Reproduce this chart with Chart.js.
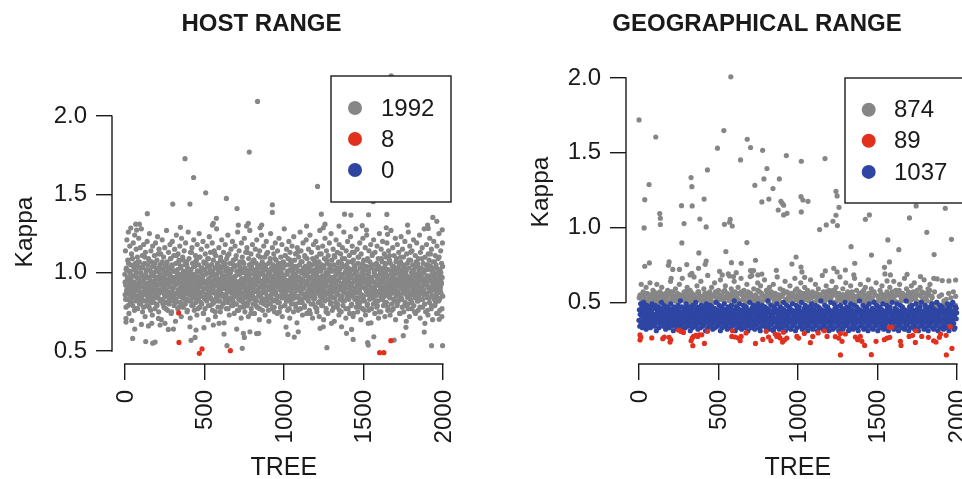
<!DOCTYPE html>
<html>
<head>
<meta charset="utf-8">
<title>Kappa by tree</title>
<script src="https://cdn.jsdelivr.net/npm/chart.js@4/dist/chart.umd.min.js"></script>
<style>
html, body { margin: 0; padding: 0; background: #fff; overflow: hidden; width: 962px; height: 479px; }
canvas { position: absolute; top: 0; }
#hostChart { left: 0; }
#geoChart { left: 481px; }
</style>
</head>
<body>
<canvas id="hostChart" width="486" height="479"></canvas>
<canvas id="geoChart" width="519" height="479"></canvas>
<script>
"use strict";

const xTicks = [0, 500, 1000, 1500, 2000];
const yTicks = [0.5, 1.0, 1.5, 2.0];

const hostLabels = ["1992", "8", "0"];
const geoLabels = ["874", "89", "1037"];

// HOST RANGE, points that can be read one by one
const hostGrayTrees = [1675,835,783,379,433,509,639,1212,302,410,928,706,928,142,1236,1382,1422,1533,1648,1562,1937,1962,576,551,557,1996,1778,1904,1908,1644,1652,38,69,92,75,350,1493,1520,1347,1143,1259,1248,777,766,714,861,851,8,8,44,63,50,132,176,191,105,149,170,212,222,253,274,306,417,442,448,410,498,557,593,624,643,739,704,746,752,787,829,842,1014,1026,1066,1091,1271,1228,1248,1300,1363,1394,1436,1426,1531,1566,1527,1531,1694,1751,1768,1883,1929,1998,1887,1977];
const hostGrayKappa = [2.257,2.094,1.77,1.728,1.608,1.51,1.474,1.551,1.438,1.438,1.434,1.41,1.385,1.377,1.374,1.374,1.368,1.37,1.372,1.453,1.353,1.328,1.347,1.304,1.315,1.274,1.304,1.304,1.283,1.287,1.245,1.285,1.31,1.31,1.272,1.29,1.3,1.272,1.298,1.298,1.31,1.287,1.315,1.298,1.304,1.304,1.287,.685,.708,.694,.64,.58,.56,.55,.557,.67,.66,.677,.708,.666,.677,.638,.64,.568,.587,.634,.655,.649,.666,.677,.608,.534,.517,.64,.613,.587,.623,.611,.613,.653,.606,.589,.623,.521,.645,.655,.677,.655,.613,.574,.638,.677,.591,.553,.538,.57,.598,.651,.621,.534,.534,.677,.702];
const hostRedTrees = [339,341,486,469,664,1602,1629,1673];
const hostRedKappa = [.743,.555,.513,.485,.502,.489,.489,.566];

// HOST RANGE, the dense band in tree order (estimated)
const hostBandKappa = [
.99,.86,1.14,.92,.78,1.03,.88,1.21,.95,.83,1.08,.9,1.26,.97,.74,1.01,.87,1.17,.93,.81,1.05,.96,.89,1.12,.84,
.91,1.09,.79,.98,1.19,.86,1.02,.94,.76,1.24,.88,1.06,.92,.82,1.15,1,.85,.97,1.1,.77,.93,1.04,.89,1.22,.83,
1.07,.95,.87,1.16,.8,1,.91,1.28,.85,.98,1.11,.75,.94,1.03,.88,1.18,.82,.96,1.06,.9,.72,1.13,.99,.86,1.01,
.93,.79,1.2,.89,1.05,.84,.97,1.09,.92,.78,1.25,.87,1.02,.95,.81,1.14,.9,.98,1.07,.83,.73,1.17,.94,.88,1.04,
1,.85,1.11,.91,.77,.96,1.19,.86,1.03,.93,.8,1.08,.89,1.23,.97,.84,1.01,.75,1.15,.92,.87,1.05,.99,.82,1.12,
.95,.7,1.06,.88,1.21,.94,.83,1.02,.9,1.1,.78,.97,.86,1.16,.92,1.04,.81,.99,.89,1.27,.85,1.07,.93,.76,1,
.87,1.13,.96,.8,1.03,.91,1.18,.84,.98,1.09,.74,.94,1.05,.88,1.2,.82,1.01,.9,.95,1.11,.79,.86,1.15,.97,.92,
.69,1.06,.83,1.24,.93,1,.87,1.02,.77,1.12,.96,.89,1.08,.85,.94,1.17,.81,.99,.91,1.04,.72,1.22,.88,.97,.84,
1.1,.93,.78,1.01,.9,1.14,.86,.95,1.05,.8,1.19,.92,.98,.83,1.07,.75,.89,1.03,.96,1.26,.87,.94,1.09,.82,1,
.91,.71,1.13,.85,1.02,.97,.79,1.16,.88,1.06,.93,.84,.99,1.21,.9,.76,1.04,.95,.86,1.11,.81,.98,1.08,.92,.73,
1.18,.89,1.01,.94,.83,1.05,.87,1.25,.96,.78,1.1,.91,1,.85,1.15,.93,.8,1.03,.97,.88,1.2,.74,.95,1.07,.84,
.9,1.02,.77,1.12,.99,.86,1.06,.92,.82,1.17,.94,1.04,.89,.7,1.09,.96,.85,1.23,.91,1,.79,1.13,.87,.98,1.05,
.83,.93,1.19,.76,1.01,.9,1.08,.95,.81,1.14,.88,.97,1.03,.72,1.11,.92,.84,1.28,.99,.86,1.06,.94,.78,1.02,.89,
1.16,.96,.82,1.04,.91,.75,1.1,.87,1,.93,1.21,.85,.98,1.07,.8,.95,1.13,.9,.68,1.05,.97,.83,1.18,.92,1.01,
.86,.77,1.09,.94,1.03,.88,1.24,.81,.99,.91,1.12,.73,.96,1.06,.84,1,.89,1.15,.93,.79,1.02,.87,1.2,.95,.82,
1.08,.9,.97,.74,1.04,.85,1.17,.92,.98,.8,1.11,.88,1.01,.94,.76,1.26,.86,1.05,.91,.83,1.14,.99,.89,1.07,.78,
.95,1.02,.71,1.19,.87,.93,1.1,.84,1,.96,.81,1.06,.9,1.22,.92,.75,1.03,.88,1.13,.97,.85,.98,1.16,.79,.94,
1.01,.89,.72,1.09,.91,1.05,.86,1.27,.83,.99,.95,1.12,.77,1.04,.9,.93,1.18,.87,.8,1.02,.96,1.08,.84,.74,1,
.92,1.15,.88,.97,1.06,.82,1.21,.94,.78,1.03,.89,1.11,.85,.98,.91,.7,1.14,.95,.86,1.05,1,.81,1.24,.93,.87,
1.07,.76,.99,1.01,.9,1.17,.83,.96,1.1,.92,.73,1.04,.88,.94,1.2,.79,1.02,.85,.97,1.13,.91,.84,1.06,.69,.95,
1,.89,1.09,.8,1.25,.93,.86,1.03,.98,.77,1.16,.9,1.05,.82,.96,1.12,.87,.75,1.01,.94,1.19,.88,.99,1.08,.83,
.92,1.02,.74,1.14,.95,.85,1.06,.91,1.22,.81,.97,1.04,.89,.78,1.1,.93,1,.86,1.18,.72,.96,1.03,.84,1.07,.9,
.98,1.28,.87,.79,1.11,.94,1.05,.88,.82,1.15,.92,.99,1.01,.76,1.09,.85,.95,1.2,.89,.91,.71,1.13,1.02,.83,.97,
1.06,.8,.93,1.17,.86,1,.9,1.04,.75,1.23,.96,.87,1.08,.84,.94,1.12,.78,.98,.92,1.03,.68,1.16,.89,1.01,.85,
.95,1.1,.81,.97,1.05,.91,1.26,.77,.88,1.14,.93,1,.83,1.07,.73,.96,1.19,.9,1.02,.86,.99,.79,1.11,.94,1.04,
.84,.92,1.21,.87,.74,1.09,.98,.95,1.03,.82,1.15,.89,1.06,.76,.91,1.24,.85,1.01,.97,.8,1.13,.93,.88,1.05,.71,
1,.9,1.18,.83,.96,1.08,.86,.94,1.02,.78,1.2,.92,.99,1.1,.75,.87,1.04,.95,1.16,.81,.89,1.07,.72,.97,1.27,
.91,.85,1.01,.93,1.12,.79,1.05,.88,.98,1.17,.84,.96,.7,1.03,.9,1.09,.82,1.22,.94,.86,1,.77,1.14,.92,1.06,
.87,.99,.74,1.11,.95,1.02,.83,1.19,.89,.97,1.04,.8,.91,1.25,.85,1.08,.93,.76,1.01,.88,1.15,.96,.84,1.05,.69,
.94,1.1,.9,.98,.81,1.21,.87,1.03,.92,.78,1.13,1,.86,.95,1.07,.73,1.18,.89,1.02,.83,.97,1.12,.91,.75,1.06,
.93,.85,1.16,.99,.79,1.04,.88,1.26,.94,.82,1.09,.96,.9,1.01,.71,1.14,.87,1.05,.92,.84,1.2,.98,.77,1.03,.95,
.86,1.11,.74,1,.89,1.23,.91,.97,1.07,.8,.93,1.17,.85,1.02,.72,1.08,.94,.88,1.13,.99,.83,1.04,.9,.96,1.28,
.78,1.01,.87,1.15,.92,.75,1.06,.95,.84,1.1,.98,.89,1.19,.81,1.03,.93,.7,1.12,.86,1,.91,1.05,.77,1.22,.97,
.85,1.08,.94,.82,1.02,.9,1.16,.73,.96,1.04,.88,1.24,.92,.79,1.09,.99,.86,1.01,.76,1.14,.93,.83,1.07,.95,.89,
1.18,.68,1.03,.91,.97,1.11,.84,.87,1.05,.8,1.21,.94,1,.9,.74,1.13,.85,1.02,.98,.88,1.06,.78,1.17,.92,.96,
.82,1.09,.71,1.04,.93,1.25,.86,.99,1.01,.89,.75,1.15,.95,.83,1.07,.91,1.2,.87,.97,.79,1.03,.94,1.12,.85,.72,
1.05,.9,1,1.1,.81,.98,1.19,.88,.92,.76,1.02,.86,1.14,.96,.93,1.08,.84,.73,1.06,.89,1.27,.95,.8,1.01,.91,
.87,1.16,.97,.77,1.04,.83,1.11,.94,.99,.9,1.22,.7,1.03,.85,1.09,.92,.79,1.18,.96,.88,1,.82,1.13,.93,1.05,
.74,.98,.86,1.07,.91,1.23,.84,.95,1.02,.78,1.15,.89,.97,1.1,.75,.94,1.04,.87,1.2,.81,.99,.92,1.01,.69,1.12,
.9,.85,1.06,.96,.8,1.26,.93,.88,1.03,.72,1.17,.95,.83,1.08,.97,.91,1,.77,1.14,.86,1.05,.94,.89,1.21,.79,
1.02,.92,.98,.84,1.11,.74,.9,1.07,.87,1.19,.96,.82,1.04,.93,.76,1.09,.85,1.01,.99,1.24,.88,.71,1.13,.95,.91,
1.03,.83,.97,1.16,.78,.94,1.06,.89,1,.86,1.28,.92,.8,1.1,.96,.75,1.05,.87,1.18,.93,.98,.84,1.02,.73,1.12,
.9,.95,1.08,.81,1.22,.91,.88,1.04,.97,.77,1.15,.85,1.01,.94,.7,1.07,.92,.99,1.2,.83,.89,1.03,.79,1.11,.96,
.86,1.05,.93,.74,1.17,.9,1,.84,1.09,.95,.82,1.25,.88,.98,.76,1.02,.91,1.14,.87,.94,1.06,.72,.97,1.19,.85
];
// the solid middle of the same band, second pass
const hostCoreKappa = [
.94,.83,1.02,.89,.97,.79,1.06,.91,.86,1,.95,.81,1.09,.88,.93,1.04,.85,.98,.77,1.01,.9,.84,1.07,.96,.92,.8,
1.03,.87,.99,.83,.94,1.05,.78,.91,1.1,.86,.97,.82,1.02,.93,.89,1.08,.85,.95,.76,1,.88,1.04,.92,.81,.98,1.06,
.84,.9,1.01,.79,.96,1.12,.87,.93,.83,1.03,.89,.97,1.07,.8,.94,.91,1,.85,.77,1.05,.95,.88,1.02,.82,.99,.92,
1.09,.86,.75,1.04,.9,.96,.84,1.01,.93,.81,1.11,.87,.98,.89,1.06,.78,.94,1.03,.85,.91,.97,.8,1.08,.92,.83,1,
.88,.95,1.05,.76,.9,1.02,.86,.99,.93,.82,1.13,.89,.96,.79,1.04,.87,.94,1.07,.84,.91,1.01,.77,.97,.85,1.1,.92,
.81,1.03,.95,.88,.98,.74,1.06,.9,.83,1,.93,.86,1.09,.79,.96,.89,1.02,.84,.94,1.05,.8,.91,.99,.87,1.12,.75,
.97,.92,1.04,.85,.82,1.01,.95,.88,1.08,.78,.93,.9,1.03,.86,.96,.81,1.06,.98,.84,.89,1.11,.77,.94,1,.91,.83,
1.02,.87,.97,.79,1.05,.92,.85,.95,1.09,.8,.9,1.01,.88,.76,.99,1.04,.93,.82,.96,.86,1.07,.91,.78,1.03,.94,.84,
1,.89,1.13,.81,.97,.87,1.02,.92,.74,1.06,.95,.85,.9,1.08,.83,.98,.93,.79,1.01,.88,1.04,.96,.86,.77,1.1,.91,
.84,1.03,.94,.89,.8,1.05,.97,.87,.92,1.12,.82,.99,.76,1,.9,1.07,.85,.95,.83,1.02,.93,.88,.78,1.09,.96,.86,
1.04,.91,.81,.98,1.01,.75,.94,.89,1.06,.84,.92,1.03,.87,.97,.79,1.11,.9,.85,1,.95,.82,1.05,.77,.93,1.08,.88,
.96,.83,1.02,.91,.86,.99,.8,1.04,.94,.89,1.13,.76,.97,.84,1.01,.92,1.07,.87,.81,.95,1.03,.9,.78,1.1,.85,.98,
.93,1,.83,.88,1.05,.96,.74,1.02,.91,.86,1.09,.8,.94,.99,.84,1.06,.89,.77,.97,1.01,.92,.87,1.12,.82,.95,1.03,
.9,.79,.85,1.04,.93,.98,.88,.75,1.08,.96,.83,1,.91,1.05,.86,.81,.94,1.02,.89,.97,.78,1.11,.84,.92,1.01,.87,
.95,.8,1.06,.9,.76,1.03,.99,.85,.93,1.09,.82,.88,.96,1.04,.91,.77,1,.86,.94,1.07,.83,.97,.89,1.02,.79,.92,
1.13,.87,.74,1.05,.95,.84,1.01,.9,.98,.81,1.1,.93,.88,.78,1.03,.96,.85,.91,1.06,.83,.99,.76,1.02,.94,.89,1.08,
.8,.92,1,.86,.97,1.04,.84,.77,.95,1.12,.9,.87,1.01,.82,.93,.98,1.05,.79,.88,.96,.75,1.03,.91,.85,1.09,.94,
.83,1,.89,.97,.81,1.06,.92,.86,1.02,.78,.95,.9,1.11,.84,.99,.87,.76,1.04,.93,.96,.82,1.01,.88,1.07,.91,.8,
.94,1.03,.85,.97,.74,1.1,.9,.83,1,.92,1.05,.87,.79,.95,.89,1.02,.98,.84,.77,1.08,.93,.86,1.13,.91,.81,.96,
1.01,.88,.94,.75,1.04,.85,.99,.9,1.06,.82,.92,.97,.78,1.03,.87,.95,1.09,.83,.89,1,.8,.93,1.02,.96,.86,.76,
1.05,.91,.84,.98,1.12,.88,.79,.94,1.01,.9,.85,1.07,.97,.81,.92,1.03,.87,.74,.95,1.1,.83,.89,1,.93,.77,1.04
];

// GEOGRAPHICAL RANGE, points that can be read one by one
const geoGrayTrees = [2,107,579,535,495,682,703,779,640,928,1022,1171,806,432,329,334,65,38,34,787,730,844,884,818,774,411,269,336,132,136,136,285,384,424,575,571,539,588,271,680,378,548,1020,1032,1064,1022,894,902,911,877,911,932,1240,1247,1259,1240,1221,1249,1179,1137,1425,1450,1744,1702,1811,1927,1966,1566,1635,1857,1463,1335,989,963,1020,1026,1043,1358,1576,1545,1582,1561,734,644,583,424,418,376,302,191,187,214,256,67,38,334,323,865,1173,1226,1299,1247,1352,1687,1771,1855,1876,1992,1950,1908,703,722,774,749,701,508,525,571,613,596,204];
const geoGrayKappa = [1.719,1.605,2.007,1.648,1.53,1.59,1.534,1.516,1.452,1.481,1.443,1.461,1.394,1.385,1.334,1.273,1.287,1.186,.997,1.325,1.282,1.26,1.325,1.19,1.171,1.19,1.146,1.144,1.093,1.062,1.02,1.026,1.057,1.004,1.055,1.035,1.021,1.01,.897,.899,.83,.839,1.206,1.184,1.175,1.104,1.175,1.162,1.149,1.117,1.084,1.095,1.242,1.211,1.135,1.082,1.042,1.013,1.017,.986,1.055,1.084,1.144,1.064,.968,1.128,.921,.917,.852,.819,.816,.872,.803,.756,.736,.703,.667,.761,.77,.734,.683,.643,.781,.761,.765,.776,.754,.727,.752,.77,.747,.72,.72,.763,.741,.694,.683,.714,.71,.727,.716,.703,.683,.687,.672,.66,.656,.649,.643,.645,.712,.712,.689,.683,.672,.707,.683,.676,.698,.672,.66];
const geoRedTrees = [8,8,13,82,151,161,191,197,201,250,264,281,329,336,340,344,359,371,380,396,413,432,585,589,606,627,638,644,675,734,780,801,816,831,858,868,879,889,904,910,916,931,994,1005,1041,1079,1094,1128,1167,1184,1236,1257,1268,1278,1268,1299,1362,1376,1393,1403,1420,1462,1492,1544,1561,1578,1575,1592,1645,1649,1700,1722,1739,1743,1779,1821,1854,1869,1890,1897,1932,1934,1959,1969];
const geoRedKappa = [.282,.248,.266,.262,.257,.268,.266,.234,.25,.315,.306,.299,.243,.261,.21,.272,.279,.272,.283,.283,.225,.306,.272,.31,.268,.261,.243,.272,.295,.225,.252,.306,.268,.243,.288,.272,.283,.261,.234,.3,.248,.261,.272,.261,.292,.23,.272,.295,.31,.272,.27,.261,.292,.239,.148,.288,.268,.25,.272,.239,.212,.15,.239,.25,.261,.266,.333,.335,.239,.212,.272,.279,.232,.31,.272,.266,.243,.234,.266,.288,.279,.148,.337,.192];

// GEOGRAPHICAL RANGE, the dense bands in tree order (estimated)
const geoGrayBandKappa = [
.53,.55,.62,.51,.57,.54,.52,.6,.56,.5,.53,.63,.55,.51,.58,.54,.52,.56,.62,.53,.5,.57,.55,.6,.52,
.54,.51,.56,.53,.58,.5,.55,.64,.52,.57,.54,.51,.59,.53,.56,.5,.62,.55,.52,.66,.54,.57,.51,.53,.6,
.55,.52,.58,.5,.56,.54,.67,.51,.53,.61,.57,.55,.52,.64,.5,.54,.59,.56,.51,.53,.68,.55,.57,.52,.6,
.54,.5,.63,.56,.53,.51,.58,.55,.65,.52,.54,.57,.5,.61,.53,.56,.69,.51,.55,.59,.52,.54,.64,.57,.5,
.53,.6,.56,.51,.66,.55,.52,.58,.54,.5,.62,.57,.53,.56,.51,.68,.54,.59,.52,.55,.5,.63,.53,.57,.61,
.56,.51,.54,.65,.52,.58,.55,.5,.6,.53,.57,.54,.62,.51,.56,.52,.67,.55,.53,.59,.5,.54,.58,.56,.64,
.52,.57,.51,.55,.61,.53,.5,.56,.54,.66,.52,.59,.55,.51,.57,.63,.53,.5,.56,.6,.54,.52,.58,.51,.55,
.65,.53,.57,.5,.54,.62,.56,.52,.59,.51,.55,.53,.68,.57,.5,.54,.61,.52,.56,.58,.51,.53,.64,.55,.5,
.57,.6,.54,.52,.56,.67,.51,.53,.59,.55,.5,.63,.54,.57,.52,.56,.61,.51,.55,.53,.66,.5,.58,.54,.52,
.56,.62,.53,.57,.51,.55,.6,.5,.54,.65,.52,.56,.59,.53,.51,.57,.55,.63,.5,.54,.52,.58,.56,.61,.53,
.51,.69,.55,.57,.5,.54,.6,.52,.56,.53,.64,.51,.58,.55,.5,.57,.62,.54,.52,.56,.53,.66,.51,.59,.55,
.57,.5,.54,.61,.52,.56,.63,.53,.51,.58,.55,.5,.6,.54,.57,.52,.65,.56,.53,.51,.59,.55,.62,.5,.54,
.44,.48,.46,.42,.49,.45,.47,.43,.48,.46,.44,.49,.41,.47,.45,.48,.43,.46,.49,.44,.47,.42,.45,.48,.46
];
// the solid strip of gray on top of the blue band, second pass
const geoGrayTopKappa = [
.54,.52,.56,.5,.55,.53,.57,.51,.54,.56,.52,.55,.5,.57,.53,.51,.55,.54,.52,.56,.58,.5,.53,.55,.51,.57,.54,
.52,.56,.53,.5,.55,.57,.51,.54,.52,.58,.55,.53,.56,.5,.54,.51,.57,.52,.55,.53,.56,.5,.54,.58,.51,.55,.52,
.57,.53,.56,.5,.54,.51,.55,.57,.52,.53,.56,.5,.58,.54,.51,.55,.52,.57,.53,.56,.5,.54,.55,.51,.52,.57,.53,
.56,.58,.5,.54,.51,.55,.52,.56,.53,.57,.5,.54,.55,.51,.58,.52,.56,.53,.57,.5,.54,.51,.55,.52,.56,.53,.57,
.54,.5,.58,.51,.55,.52,.56,.53,.57,.54,.5,.55,.51,.52,.56,.58,.53,.57,.5,.54,.55,.51,.52,.56,.53,.57,.54
];
const geoBlueBandKappa = [
.38,.45,.34,.42,.49,.36,.41,.47,.33,.44,.39,.5,.37,.43,.35,.46,.4,.32,.48,.38,.42,.36,.45,.34,.41,
.47,.39,.33,.44,.37,.43,.49,.35,.4,.46,.38,.42,.34,.48,.36,.41,.31,.45,.39,.44,.37,.47,.33,.43,.4,
.35,.46,.38,.5,.42,.36,.44,.34,.41,.48,.39,.45,.37,.32,.43,.4,.47,.35,.42,.38,.46,.33,.44,.36,.41,
.49,.39,.34,.45,.37,.43,.31,.47,.4,.35,.42,.38,.46,.44,.33,.41,.36,.48,.39,.45,.34,.43,.37,.51,.4,
.35,.47,.42,.38,.32,.44,.36,.46,.41,.33,.39,.49,.43,.37,.45,.34,.4,.47,.35,.42,.38,.31,.44,.36,.46,
.41,.33,.48,.39,.43,.37,.45,.34,.4,.5,.35,.42,.47,.38,.32,.44,.36,.46,.41,.39,.33,.43,.48,.37,.45,
.34,.4,.35,.47,.42,.38,.44,.31,.36,.49,.41,.46,.33,.39,.43,.37,.45,.34,.48,.4,.35,.42,.47,.38,.32,
.44,.36,.41,.46,.33,.39,.43,.5,.37,.45,.34,.4,.35,.42,.48,.38,.44,.31,.36,.47,.41,.33,.46,.39,.43,
.37,.49,.34,.45,.4,.35,.42,.38,.32,.44,.47,.36,.41,.33,.46,.39,.43,.37,.48,.34,.45,.4,.35,.42,.38,
.51,.44,.31,.36,.47,.41,.33,.39,.46,.43,.37,.34,.49,.45,.4,.35,.42,.32,.38,.44,.36,.48,.41,.33,.46,
.39,.43,.37,.47,.34,.45,.4,.31,.35,.42,.38,.5,.44,.36,.41,.33,.46,.39,.43,.48,.37,.34,.45,.32,.4,
.47,.35,.42,.38,.44,.36,.49,.41,.33,.46,.39,.31,.43,.37,.45,.34,.48,.4,.35,.42,.38,.44,.47,.36,.41,
.33,.46,.39,.43,.51,.37,.34,.45,.32,.4,.35,.48,.42,.38,.44,.36,.41,.31,.47,.33,.46,.39,.43,.37,.45,
.49,.34,.4,.35,.42,.38,.32,.44,.47,.36,.41,.33,.46,.39,.43,.37,.5,.45,.34,.4,.31,.35,.42,.48,.38,
.44,.36,.41,.33,.47,.46,.39,.43,.32,.37,.45,.34,.49,.4,.35,.42,.38,.44,.36,.31,.41,.48,.33,.46,.39,
.43,.37,.45,.47,.34,.4,.35,.42,.5,.38,.32,.44,.36,.41,.33,.46,.39,.48,.43,.37,.45,.34,.4,.31,.35,
.42,.47,.38,.44,.36,.41,.33,.49,.46,.39,.32,.43,.37,.45,.34,.4,.35,.48,.42,.38,.44,.31,.36,.47,.41,
.33,.46,.39,.43,.51,.37,.45,.34,.4,.32,.35,.42,.38,.48,.44,.36,.41,.33,.46,.39,.47,.43,.37,.31,.45,
.34,.4,.5,.35,.42,.38,.44,.32,.36,.41,.49,.33,.46,.39,.43,.37,.45,.47,.34,.4,.35,.31,.42,.38,.44,
.48,.36,.41,.33,.46,.39,.32,.43,.37,.45,.34,.5,.4,.35,.42,.47,.38,.44,.36,.31,.41,.33,.46,.39,.49,
.43,.37,.45,.34,.4,.32,.35,.48,.42,.38,.44,.36,.41,.47,.33,.46,.39,.31,.43,.37,.51,.45,.34,.4,.35,
.42,.38,.44,.48,.36,.32,.41,.33,.46,.39,.43,.37,.47,.45,.34,.31,.4,.35,.49,.42,.38,.44,.36,.41,.33,
.46,.39,.32,.43,.5,.37,.45,.34,.4,.35,.48,.42,.38,.31,.44,.36,.47,.41,.33,.46,.39,.43,.37,.45,.34,
.49,.4,.32,.35,.42,.38,.44,.36,.41,.48,.33,.46,.39,.31,.43,.37,.45,.47,.34,.4,.35,.42,.5,.38,.44,
.36,.32,.41,.33,.46,.39,.43,.37,.49,.45,.34,.4,.31,.35,.42,.38,.48,.44,.36,.41,.33,.47,.46,.39,.43,
.37,.32,.45,.34,.4,.51,.35,.42,.38,.44,.36,.31,.41,.47,.33,.46,.39,.43,.37,.48,.45,.34,.4,.35,.42,
.32,.38,.44,.49,.36,.41,.33,.46,.39,.31,.43,.37,.45,.47,.34,.4,.5,.35,.42,.38,.44,.36,.32,.41,.33,
.48,.46,.39,.43,.37,.45,.34,.31,.4,.35,.42,.47,.38,.44,.36,.41,.49,.33,.46,.39,.32,.43,.37,.45,.34,
.4,.35,.5,.42,.38,.31,.44,.36,.41,.48,.33,.46,.39,.43,.37,.47,.45,.34,.32,.4,.35,.42,.38,.44,.36,
.41,.33,.49,.46,.39,.43,.31,.37,.45,.34,.48,.4,.35,.42,.38,.5,.44,.36,.32,.41,.33,.47,.46,.39,.43
];

const GRAY = "#868686";
const RED = "#e2301f";
const BLUE = "#2e45a3";
const INK = "#1a1a1a";
const FONT = "'Liberation Sans', Arial, Helvetica, sans-serif";

function pairs(trees, kappa) {
    return trees.map((tree, i) => ({ x: tree, y: kappa[i] }));
}

// the bands hold one value per tree position, left to right
function inTreeOrder(kappa) {
    return kappa.map((value, i) => ({ x: (i + 0.5) * 2000 / kappa.length, y: value }));
}

function makeDataset(label, points, color, order) {
    return {
        label: label,
        data: points,
        order: order,
        showLine: false,
        backgroundColor: color,
        borderColor: color,
        borderWidth: 0,
        pointRadius: 2.6,
        pointHoverRadius: 2.6
    };
}

// R style axes and boxed legend, neither is offered by Chart.js itself
const panelExtras = {
    id: "panelExtras",
    afterLayout(chart, args, opts) {
        chart.titleBlock.left = opts.titleCenter - 200;
        chart.titleBlock.right = opts.titleCenter + 200;
    },
    afterDatasetsDraw(chart, args, opts) {
        const ctx = chart.ctx;
        const area = chart.chartArea;
        const xScale = chart.scales.x;
        const yScale = chart.scales.y;

        ctx.save();
        ctx.strokeStyle = INK;
        ctx.lineWidth = 1.4;
        ctx.beginPath();
        ctx.moveTo(xScale.getPixelForValue(xTicks[0]) - 0.7, area.bottom);
        ctx.lineTo(xScale.getPixelForValue(xTicks[xTicks.length - 1]) + 0.7, area.bottom);
        ctx.moveTo(area.left, yScale.getPixelForValue(yTicks[0]) + 0.7);
        ctx.lineTo(area.left, yScale.getPixelForValue(yTicks[yTicks.length - 1]) - 0.7);
        ctx.stroke();

        ctx.fillStyle = INK;
        ctx.font = "24.5px " + FONT;
        ctx.textAlign = "center";
        ctx.textBaseline = "middle";
        ctx.translate(opts.kappaX, opts.kappaY);
        ctx.rotate(-Math.PI / 2);
        ctx.fillText("Kappa", 0, 0);
        ctx.restore();

        ctx.save();
        ctx.fillStyle = "#fff";
        ctx.strokeStyle = INK;
        ctx.lineWidth = 1.4;
        ctx.fillRect(opts.boxLeft, opts.boxTop, opts.boxWidth, opts.boxHeight);
        ctx.strokeRect(opts.boxLeft, opts.boxTop, opts.boxWidth, opts.boxHeight);
        ctx.font = "24px " + FONT;
        ctx.textBaseline = "middle";
        ctx.textAlign = "left";
        chart.data.datasets.forEach((dataset, i) => {
            const rowY = opts.rowTop + i * opts.rowGap;
            ctx.fillStyle = dataset.backgroundColor;
            ctx.beginPath();
            ctx.arc(opts.dotX, rowY, 7, 0, Math.PI * 2);
            ctx.fill();
            ctx.fillStyle = INK;
            ctx.fillText(dataset.label, opts.textX, rowY + 1);
        });
        ctx.restore();
    }
};

function makeChart(id, titleText, datasets, yMin, yMax, yWidth, paddingRight, extras) {
    return new Chart(document.getElementById(id), {
        type: "scatter",
        data: { datasets: datasets },
        options: {
            responsive: false,
            animation: false,
            events: [],
            layout: { padding: { left: 0, right: paddingRight, top: 0, bottom: 0 } },
            plugins: {
                legend: { display: false },
                tooltip: { enabled: false },
                title: {
                    display: true,
                    text: titleText,
                    color: INK,
                    font: { family: FONT, size: 24, weight: "bold", lineHeight: 1.2 },
                    padding: { top: 9.5, bottom: 25.7 }
                },
                panelExtras: extras
            },
            scales: {
                x: {
                    type: "linear",
                    min: -80,
                    max: 2080,
                    afterBuildTicks: (scale) => { scale.ticks = xTicks.map((v) => ({ value: v })); },
                    afterFit: (scale) => { scale.height = 115; },
                    border: { display: false },
                    grid: { display: true, drawOnChartArea: false, tickLength: 16, color: INK, lineWidth: 1.4 },
                    ticks: {
                        autoSkip: false,
                        minRotation: 90,
                        maxRotation: 90,
                        padding: 10,
                        labelOffset: 1.5,
                        color: INK,
                        font: { family: FONT, size: 24 },
                        callback: (v) => String(v)
                    },
                    title: {
                        display: true,
                        text: "TREE",
                        color: INK,
                        font: { family: FONT, size: 25 },
                        padding: { top: 0, bottom: -4 }
                    }
                },
                y: {
                    type: "linear",
                    min: yMin,
                    max: yMax,
                    afterBuildTicks: (scale) => { scale.ticks = yTicks.map((v) => ({ value: v })); },
                    afterFit: (scale) => { scale.width = yWidth; },
                    border: { display: false },
                    grid: { display: true, drawOnChartArea: false, tickLength: 16, color: INK, lineWidth: 1.4 },
                    ticks: {
                        padding: 9,
                        color: INK,
                        font: { family: FONT, size: 24 },
                        callback: (v) => v.toFixed(1)
                    }
                }
            }
        },
        plugins: [panelExtras]
    });
}

makeChart("hostChart", "HOST RANGE", [
    makeDataset(hostLabels[0], inTreeOrder(hostBandKappa).concat(inTreeOrder(hostCoreKappa), pairs(hostGrayTrees, hostGrayKappa)), GRAY, 3),
    makeDataset(hostLabels[1], pairs(hostRedTrees, hostRedKappa), RED, 1),
    makeDataset(hostLabels[2], [], BLUE, 2)
], 0.417, 2.3327, 112, 30.4, {
    titleCenter: 261.5, kappaX: 25, kappaY: 232,
    boxLeft: 331, boxTop: 76, boxWidth: 120, boxHeight: 126,
    dotX: 355, textX: 381, rowTop: 108, rowGap: 31
});

makeChart("geoChart", "GEOGRAPHICAL RANGE", [
    makeDataset(geoLabels[0], inTreeOrder(geoGrayBandKappa).concat(inTreeOrder(geoGrayTopKappa), pairs(geoGrayTrees, geoGrayKappa)), GRAY, 3),
    makeDataset(geoLabels[1], pairs(geoRedTrees, geoRedKappa), RED, 1),
    makeDataset(geoLabels[2], inTreeOrder(geoBlueBandKappa), BLUE, 2)
], 0.0876, 2.093, 145, 30.4, {
    titleCenter: 276, kappaX: 60, kappaY: 192,
    boxLeft: 364, boxTop: 78, boxWidth: 130, boxHeight: 125,
    dotX: 387.7, textX: 413, rowTop: 109.7, rowGap: 31.1
});
</script>
</body>
</html>
